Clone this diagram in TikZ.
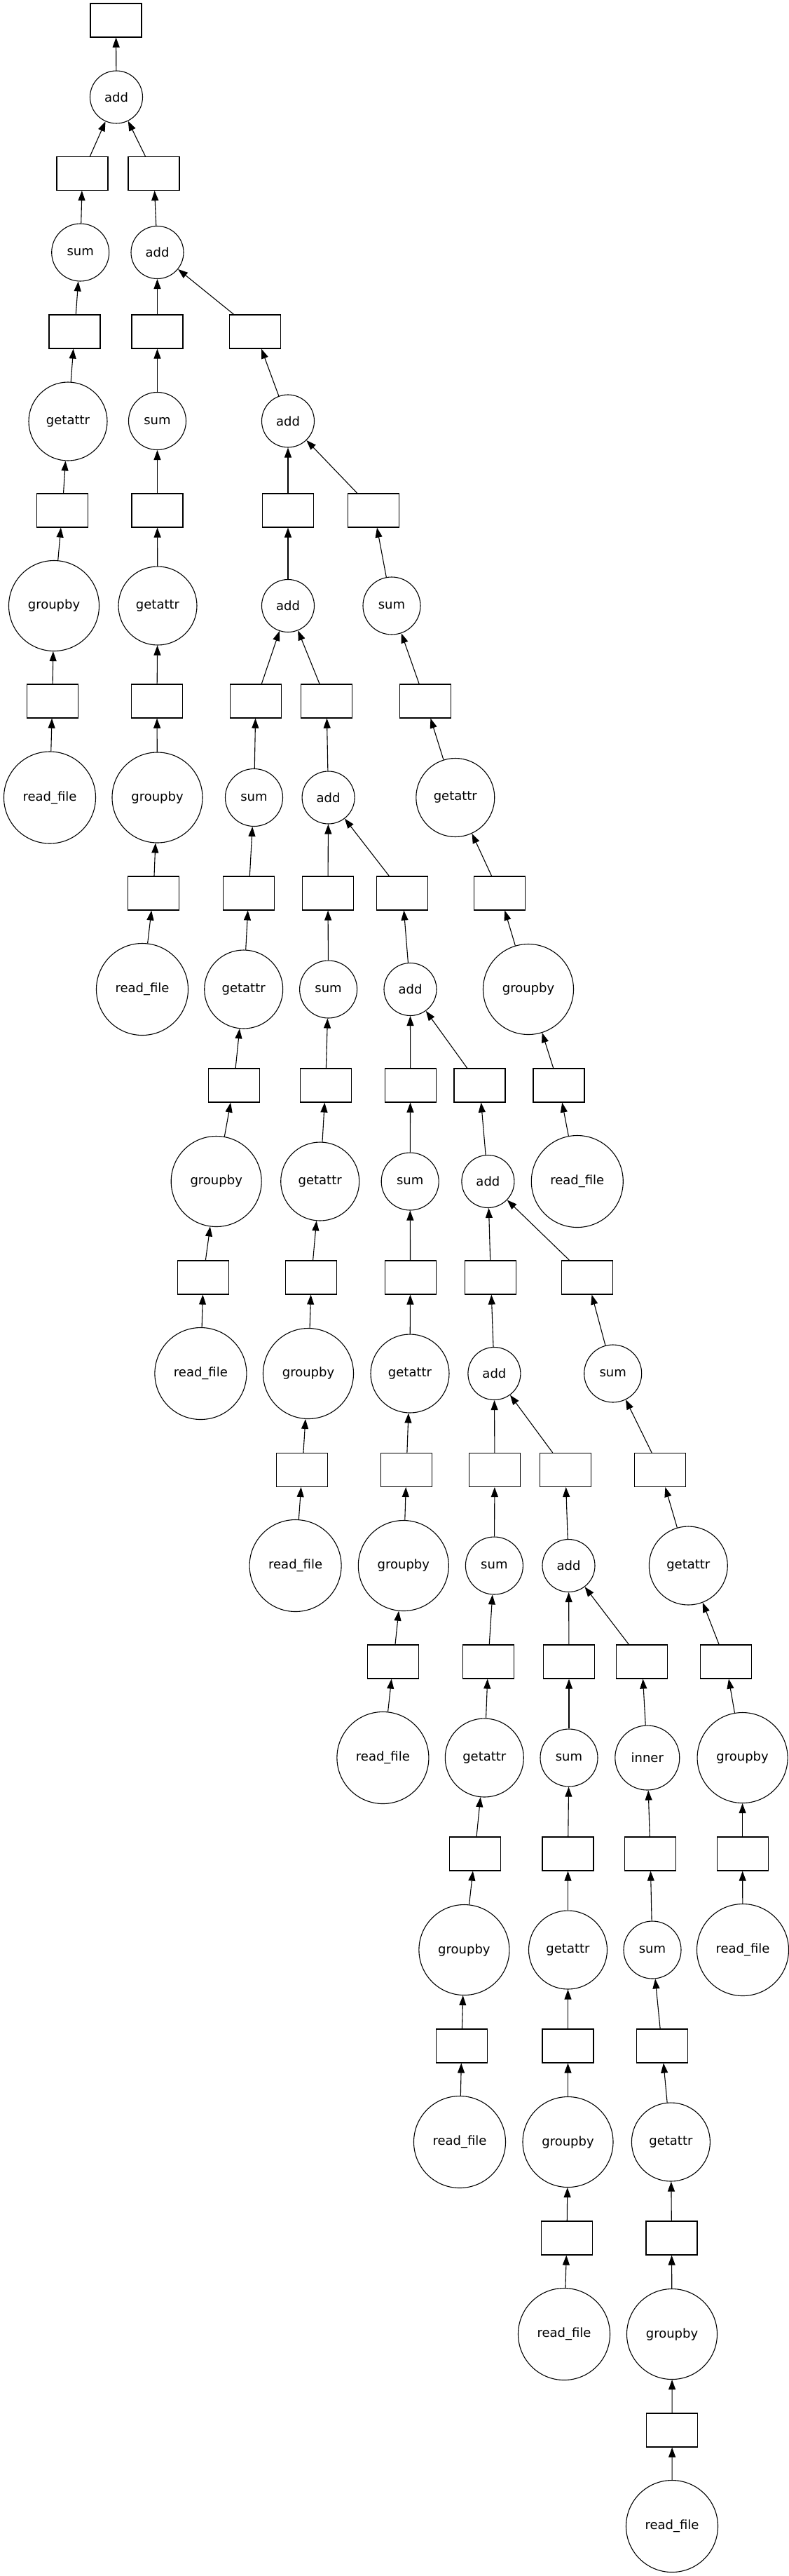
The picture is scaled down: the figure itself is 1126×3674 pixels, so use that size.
\documentclass[tikz,border=0pt]{standalone}
\usepackage{fontspec}
\setmainfont{DejaVu Sans}
\usetikzlibrary{arrows.meta}
\begin{document}
\begin{tikzpicture}[x=1pt,y=-1pt,
  every node/.style={font=\fontsize{18}{21}\selectfont},
  dbox/.style={draw,line width=1.1pt,rectangle,minimum width=73pt,minimum height=48pt,inner sep=0pt},
  fcirc/.style={draw,line width=1.1pt,circle,inner sep=0pt},
  fadd/.style={fcirc,minimum size=75pt},
  fsum/.style={fcirc,minimum size=82pt},
  fget/.style={fcirc,minimum size=112pt},
  fgrp/.style={fcirc,minimum size=129pt},
  fread/.style={fcirc,minimum size=131pt},
  finner/.style={fcirc,minimum size=92pt},
  edge/.style={line width=1.1pt,-{Triangle[length=14pt,width=10pt]}}]
\useasboundingbox (0,0) rectangle (1126,3674);
% row 0-1
\node[dbox] (B0) at (165.5,29) {};
\node[fadd] (A1) at (166,138.5) {add};
% row 2
\node[dbox] (B2a) at (117.5,247.5) {};
\node[dbox] (B2b) at (219.5,247.5) {};
% row 3
\node[fsum] (S3) at (114.7,360) {sum};
\node[fadd] (A3) at (224.5,360) {add};
% row 4
\node[dbox] (B4a) at (106.5,473) {};
\node[dbox] (B4b) at (224.5,473) {};
\node[dbox] (B4c) at (364,473) {};
% row 5
\node[fget] (G5) at (97,601) {getattr};
\node[fsum] (S5) at (224.5,600.5) {sum};
\node[fadd] (A5) at (411,600.5) {add};
% row 6
\node[dbox] (B6a) at (89,728) {};
\node[dbox] (B6b) at (224.5,728) {};
\node[dbox] (B6c) at (411,728) {};
\node[dbox] (B6d) at (533.4,728) {};
% row 7
\node[fgrp] (GB7) at (77,864) {groupby};
\node[fget] (G7) at (225,864) {getattr};
\node[fadd] (A7) at (411,864) {add};
\node[fsum] (S7) at (559,864) {sum};
% row 8
\node[dbox] (B8a) at (74.7,1000) {};
\node[dbox] (B8b) at (224,1000) {};
\node[dbox] (B8c) at (365,1000) {};
\node[dbox] (B8d) at (466,1000) {};
\node[dbox] (B8e) at (606.8,1000) {};
% row 9
\node[fread] (R9) at (71,1137.5) {read\_file};
\node[fgrp] (GB9) at (224.5,1137.5) {groupby};
\node[fsum] (S9) at (362.5,1137.5) {sum};
\node[fadd] (A9) at (468.6,1137.5) {add};
\node[fget] (G9) at (649.8,1137.5) {getattr};
% row 10
\node[dbox] (B10a) at (219,1274) {};
\node[dbox] (B10b) at (355,1274) {};
\node[dbox] (B10c) at (468,1274) {};
\node[dbox] (B10d) at (574.4,1274) {};
\node[dbox] (B10e) at (713,1274) {};
% row 11
\node[fread] (R11) at (203,1411) {read\_file};
\node[fget] (G11) at (347.7,1411) {getattr};
\node[fsum] (S11) at (468.6,1411) {sum};
\node[fadd] (A11) at (585.5,1411) {add};
\node[fgrp] (GB11) at (754,1411) {groupby};
% row 12
\node[dbox] (B12a) at (333.6,1548) {};
\node[dbox] (B12b) at (464.7,1548) {};
\node[dbox] (B12c) at (585.6,1548) {};
\node[dbox] (B12d) at (684.5,1548) {};
\node[dbox] (B12e) at (797.5,1548) {};
% row 13
\node[fgrp] (GB13) at (308.7,1685) {groupby};
\node[fget] (G13) at (456.7,1685) {getattr};
\node[fsum] (S13) at (585.2,1685) {sum};
\node[fadd] (A13) at (696.4,1685) {add};
\node[fread] (R13) at (823.8,1685) {read\_file};
% row 14
\node[dbox] (B14a) at (290,1822) {};
\node[dbox] (B14b) at (444.4,1822) {};
\node[dbox] (B14c) at (585.6,1822) {};
\node[dbox] (B14d) at (700.4,1822) {};
\node[dbox] (B14e) at (838,1822) {};
% row 15
\node[fread] (R15) at (286.4,1959) {read\_file};
\node[fgrp] (GB15) at (440,1959) {groupby};
\node[fget] (G15) at (585,1959) {getattr};
\node[fadd] (A15) at (705.4,1959) {add};
\node[fsum] (S15) at (874.7,1959) {sum};
% row 16
\node[dbox] (B16a) at (431.4,2096.5) {};
\node[dbox] (B16b) at (580,2096.5) {};
\node[dbox] (B16c) at (706,2096.5) {};
\node[dbox] (B16d) at (806.9,2096.5) {};
\node[dbox] (B16e) at (942.2,2096.5) {};
% row 17
\node[fread] (R17) at (421.6,2233) {read\_file};
\node[fgrp] (GB17) at (575.8,2233) {groupby};
\node[fsum] (S17) at (705.4,2233) {sum};
\node[fadd] (A17) at (811.5,2233) {add};
\node[fget] (G17) at (982.3,2233) {getattr};
% row 18
\node[dbox] (B18a) at (561.4,2370) {};
\node[dbox] (B18b) at (696.7,2370) {};
\node[dbox] (B18c) at (812,2370) {};
\node[dbox] (B18d) at (916.2,2370) {};
\node[dbox] (B18e) at (1035.7,2370) {};
% row 19
\node[fread] (R19) at (546.4,2507) {read\_file};
\node[fget] (G19) at (691.3,2507) {getattr};
\node[fsum] (S19) at (812,2507) {sum};
\node[finner] (I19) at (923.8,2507) {inner};
\node[fgrp] (GB19) at (1059.6,2507) {groupby};
% row 20
\node[dbox] (B20a) at (677.6,2644) {};
\node[dbox] (B20b) at (810.5,2644) {};
\node[dbox] (B20c) at (928,2644) {};
\node[dbox] (B20d) at (1059.6,2644) {};
% row 21
\node[fgrp] (GB21) at (662.4,2781) {groupby};
\node[fget] (G21) at (810.5,2781) {getattr};
\node[fsum] (S21) at (931,2781) {sum};
\node[fread] (R21) at (1060,2781) {read\_file};
% row 22
\node[dbox] (B22a) at (658.8,2918) {};
\node[dbox] (B22b) at (810.5,2918) {};
\node[dbox] (B22c) at (944.6,2918) {};
% row 23
\node[fread] (R23) at (656,3055) {read\_file};
\node[fgrp] (GB23) at (810.5,3055) {groupby};
\node[fget] (G23) at (957.4,3055) {getattr};
% row 24
\node[dbox] (B24a) at (809,3192) {};
\node[dbox] (B24b) at (958.5,3192) {};
% row 25
\node[fread] (R25) at (805,3329) {read\_file};
\node[fgrp] (GB25) at (959,3329) {groupby};
% row 26-27
\node[dbox] (B26) at (959.2,3466) {};
\node[fread] (R27) at (959,3603) {read\_file};
% edges
\foreach \a/\b in {A1/B0, B2a/A1, B2b/A1, S3/B2a, A3/B2b,
  B4a/S3, B4b/A3, B4c/A3, G5/B4a, S5/B4b, A5/B4c,
  B6a/G5, B6b/S5, B6c/A5, B6d/A5, GB7/B6a, G7/B6b, A7/B6c, S7/B6d,
  B8a/GB7, B8b/G7, B8c/A7, B8d/A7, B8e/S7,
  R9/B8a, GB9/B8b, S9/B8c, A9/B8d, G9/B8e,
  B10a/GB9, B10b/S9, B10c/A9, B10d/A9, B10e/G9,
  R11/B10a, G11/B10b, S11/B10c, A11/B10d, GB11/B10e,
  B12a/G11, B12b/S11, B12c/A11, B12d/A11, B12e/GB11,
  GB13/B12a, G13/B12b, S13/B12c, A13/B12d, R13/B12e,
  B14a/GB13, B14b/G13, B14c/S13, B14d/A13, B14e/A13,
  R15/B14a, GB15/B14b, G15/B14c, A15/B14d, S15/B14e,
  B16a/GB15, B16b/G15, B16c/A15, B16d/A15, B16e/S15,
  R17/B16a, GB17/B16b, S17/B16c, A17/B16d, G17/B16e,
  B18a/GB17, B18b/S17, B18c/A17, B18d/A17, B18e/G17,
  R19/B18a, G19/B18b, S19/B18c, I19/B18d, GB19/B18e,
  B20a/G19, B20b/S19, B20c/I19, B20d/GB19,
  GB21/B20a, G21/B20b, S21/B20c, R21/B20d,
  B22a/GB21, B22b/G21, B22c/S21,
  R23/B22a, GB23/B22b, G23/B22c,
  B24a/GB23, B24b/G23, R25/B24a, GB25/B24b,
  B26/GB25, R27/B26}
  \draw[edge] (\a) -- (\b);
\end{tikzpicture}
\end{document}
